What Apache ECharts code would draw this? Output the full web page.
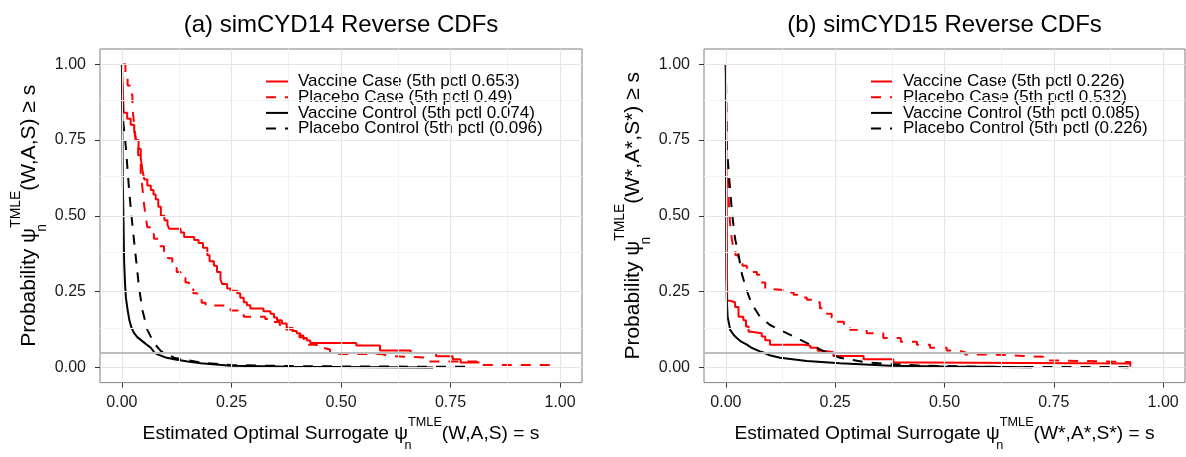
<!DOCTYPE html>
<html><head><meta charset="utf-8">
<script src="https://cdn.jsdelivr.net/npm/echarts@6/dist/echarts.min.js"></script>
<style>html,body{margin:0;padding:0;background:#fff}#c{width:1186px;height:457px}</style>
</head><body><div id="c"></div>
<script>
const FONT = '"Liberation Sans", Arial, Helvetica, sans-serif';
const tickValues = [0, 0.25, 0.5, 0.75, 1];
const tickLabels = ['0.00', '0.25', '0.50', '0.75', '1.00'];
const minorValues = [0.125, 0.375, 0.625, 0.875];
const axisMin = -0.05, axisMax = 1.05;
const refLevel = 0.05;
const panelTitles = ['(a) simCYD14 Reverse CDFs', '(b) simCYD15 Reverse CDFs'];
const namesA = ['Vaccine Case (5th pctl 0.653)', 'Placebo Case (5th pctl 0.49)', 'Vaccine Control (5th pctl 0.074)', 'Placebo Control (5th pctl (0.096)'];
const namesB = ['Vaccine Case (5th pctl 0.226)', 'Placebo Case (5th pctl 0.532)', 'Vaccine Control (5th pctl 0.085)', 'Placebo Control (5th pctl (0.226)'];

// Panel (a) simCYD14 : [s, P(psi >= s)]
const a_vacCase = [[0,1],[0.004,0.84],[0.012,0.82],[0.02,0.80],[0.028,0.78],[0.032,0.75],[0.038,0.72],[0.043,0.69],[0.047,0.65],[0.051,0.62],[0.058,0.60],[0.066,0.585],[0.072,0.57],[0.077,0.555],[0.083,0.53],[0.089,0.50],[0.097,0.485],[0.104,0.47],[0.108,0.457],[0.134,0.445],[0.142,0.43],[0.165,0.42],[0.175,0.41],[0.185,0.395],[0.195,0.37],[0.2,0.35],[0.21,0.335],[0.217,0.315],[0.225,0.29],[0.229,0.275],[0.24,0.26],[0.248,0.253],[0.263,0.245],[0.27,0.23],[0.278,0.215],[0.285,0.205],[0.293,0.194],[0.323,0.185],[0.339,0.177],[0.347,0.165],[0.354,0.156],[0.365,0.145],[0.376,0.13],[0.39,0.12],[0.399,0.113],[0.407,0.105],[0.414,0.097],[0.422,0.089],[0.43,0.081],[0.535,0.072],[0.589,0.056],[0.659,0.048],[0.717,0.037],[0.755,0.027],[0.773,0.016],[0.816,0.016]];
const a_plaCase = [[0.003,1],[0.008,0.96],[0.013,0.93],[0.018,0.9],[0.024,0.855],[0.028,0.8],[0.032,0.747],[0.037,0.7],[0.043,0.64],[0.047,0.59],[0.051,0.532],[0.055,0.49],[0.058,0.462],[0.065,0.44],[0.073,0.424],[0.085,0.4],[0.096,0.382],[0.105,0.36],[0.115,0.339],[0.125,0.315],[0.134,0.296],[0.145,0.28],[0.153,0.263],[0.163,0.245],[0.172,0.226],[0.182,0.213],[0.191,0.204],[0.241,0.196],[0.248,0.188],[0.265,0.177],[0.278,0.167],[0.327,0.16],[0.345,0.15],[0.36,0.14],[0.375,0.125],[0.39,0.115],[0.405,0.1],[0.415,0.087],[0.422,0.075],[0.445,0.065],[0.46,0.059],[0.475,0.044],[0.592,0.038],[0.61,0.032],[0.70,0.02],[0.81,0.008],[0.98,0.008]];
const a_vacCtrl = [[0,1],[0.001,0.8],[0.002,0.62],[0.004,0.45],[0.005,0.35],[0.007,0.28],[0.009,0.231],[0.013,0.19],[0.017,0.156],[0.022,0.13],[0.028,0.113],[0.035,0.1],[0.043,0.091],[0.055,0.077],[0.066,0.065],[0.074,0.05],[0.081,0.043],[0.1,0.033],[0.119,0.027],[0.15,0.02],[0.18,0.014],[0.248,0.006],[0.39,0.002],[0.71,0.0]];
const a_plaCtrl = [[0,1],[0.001,0.9],[0.003,0.81],[0.009,0.726],[0.013,0.65],[0.017,0.575],[0.024,0.468],[0.032,0.36],[0.039,0.264],[0.047,0.188],[0.058,0.124],[0.073,0.081],[0.089,0.054],[0.096,0.05],[0.119,0.032],[0.18,0.016],[0.248,0.008],[0.4,0.004],[0.6,0.003],[0.8,0.002]];

// Panel (b) simCYD15
const b_vacCase = [[0,1],[0.002,0.5],[0.003,0.22],[0.01,0.215],[0.021,0.199],[0.029,0.167],[0.04,0.156],[0.046,0.135],[0.052,0.118],[0.058,0.113],[0.082,0.102],[0.09,0.09],[0.101,0.075],[0.178,0.072],[0.193,0.065],[0.21,0.055],[0.223,0.05],[0.246,0.038],[0.315,0.027],[0.383,0.016],[0.45,0.013],[0.925,0.013]];
const b_plaCase = [[0,1],[0.001,0.85],[0.002,0.726],[0.004,0.65],[0.006,0.565],[0.008,0.51],[0.01,0.468],[0.013,0.43],[0.016,0.403],[0.022,0.37],[0.029,0.35],[0.038,0.335],[0.048,0.328],[0.06,0.315],[0.071,0.306],[0.08,0.28],[0.09,0.258],[0.105,0.255],[0.139,0.247],[0.155,0.24],[0.17,0.231],[0.185,0.223],[0.2,0.215],[0.215,0.195],[0.231,0.177],[0.242,0.165],[0.254,0.151],[0.27,0.137],[0.284,0.124],[0.322,0.113],[0.36,0.097],[0.4,0.085],[0.437,0.075],[0.467,0.065],[0.505,0.056],[0.532,0.05],[0.547,0.043],[0.592,0.041],[0.637,0.038],[0.68,0.035],[0.726,0.023],[0.76,0.018],[0.925,0.005],[0.94,0.005]];
const b_vacCtrl = [[0,1],[0.0005,0.6],[0.001,0.3],[0.002,0.231],[0.004,0.167],[0.01,0.124],[0.018,0.107],[0.025,0.097],[0.035,0.085],[0.048,0.075],[0.06,0.064],[0.078,0.053],[0.085,0.05],[0.1,0.04],[0.124,0.032],[0.185,0.021],[0.261,0.014],[0.376,0.006],[0.5,0.003],[0.7,0.001]];
const b_plaCtrl = [[0,1],[0.001,0.85],[0.002,0.726],[0.008,0.618],[0.014,0.511],[0.021,0.425],[0.029,0.371],[0.037,0.306],[0.048,0.253],[0.059,0.21],[0.078,0.167],[0.101,0.14],[0.132,0.118],[0.162,0.097],[0.193,0.075],[0.223,0.054],[0.226,0.05],[0.261,0.032],[0.315,0.018],[0.376,0.011],[0.45,0.006],[0.6,0.002],[0.94,0.001]];

const grids = [
  {left: 100, right: 604, top: 49, bottom: 66},
  {left: 704, right: 1, top: 49, bottom: 66}
];
function makeRich(fs) {
  const sfs = fs * 0.66;
  return {
    b: {fontSize: fs, fontFamily: FONT, color: '#000', lineHeight: fs * 1.9, verticalAlign: 'middle'},
    sub: {fontSize: sfs, fontFamily: FONT, color: '#000', lineHeight: fs * 1.2, verticalAlign: 'bottom', width: 0.1},
    sup: {fontSize: sfs, fontFamily: FONT, color: '#000', lineHeight: fs * 0.9, verticalAlign: 'top'}
  };
}
const xNames = ['{b|Estimated Optimal Surrogate ψ}{sub|n}{sup|TMLE}{b|(W,A,S) = s}',
                '{b|Estimated Optimal Surrogate ψ}{sub|n}{sup|TMLE}{b|(W*,A*,S*) = s}'];
const yNames = ['{b|Probability ψ}{sub|n}{sup|TMLE}{b|(W,A,S) ≥ s}',
                '{b|Probability ψ}{sub|n}{sup|TMLE}{b|(W*,A*,S*) ≥ s}'];

function axisCommon(gi, margin, nameFs) {
  return {
    gridIndex: gi, type: 'value', min: axisMin, max: axisMax,
    axisLine: {show: false, onZero: false},
    axisTick: {show: true, length: 5, customValues: tickValues, lineStyle: {color: '#333', width: 1}},
    axisLabel: {customValues: tickValues, margin,
      formatter: v => { const i = tickValues.findIndex(t => Math.abs(t - v) < 1e-9); return i >= 0 ? tickLabels[i] : ''; },
      fontSize: 16, fontFamily: FONT, color: '#1a1a1a'},
    splitLine: {show: false},
    nameLocation: 'middle',
    nameTextStyle: {fontFamily: FONT, fontSize: nameFs, color: '#000', rich: makeRich(nameFs)}
  };
}
const xAxes = [0, 1].map(gi => Object.assign(axisCommon(gi, 12, 19.2), {name: xNames[gi], nameGap: 16}));
const yAxes = [0, 1].map(gi => Object.assign(axisCommon(gi, 14, 21), {name: yNames[gi], nameGap: 51, nameRotate: 90}));

function gridLineSeries(gi) {
  const d = [];
  minorValues.forEach(v => { d.push({xAxis: v, lineStyle: {color: '#f3f3f3', width: 1, type: 'solid'}}); d.push({yAxis: v, lineStyle: {color: '#f3f3f3', width: 1, type: 'solid'}}); });
  tickValues.forEach(v => { d.push({xAxis: v, lineStyle: {color: '#e5e5e5', width: 1.2, type: 'solid'}}); d.push({yAxis: v, lineStyle: {color: '#e5e5e5', width: 1.2, type: 'solid'}}); });
  return {type: 'line', xAxisIndex: gi, yAxisIndex: gi, data: [], z: 1, silent: true,
    markLine: {silent: true, symbol: ['none', 'none'], label: {show: false}, emphasis: {disabled: true}, lineStyle: {type: 'solid'}, data: d}};
}
function refLineSeries(gi) {
  return {type: 'line', xAxisIndex: gi, yAxisIndex: gi, data: [], z: 6, silent: true,
    markLine: {silent: true, symbol: ['none', 'none'], label: {show: false}, emphasis: {disabled: true}, lineStyle: {type: 'solid'},
      data: [{yAxis: refLevel, lineStyle: {color: '#bdbdbd', width: 2, type: 'solid'}}]}};
}
function curve(name, data, gi, color, dashed, step) {
  return {type: 'line', name, data, xAxisIndex: gi, yAxisIndex: gi, step: step ? 'end' : false,
    showSymbol: false, symbol: 'none', z: 3, silent: true, smooth: false,
    lineStyle: {color, width: 2, type: dashed ? [10, 9] : 'solid'}, itemStyle: {color}};
}
const series = [
  gridLineSeries(0), gridLineSeries(1),
  curve(namesA[0], a_vacCase, 0, '#ff0000', false, true),
  curve(namesA[1], a_plaCase, 0, '#ff0000', true, true),
  curve(namesA[2], a_vacCtrl, 0, '#000000', false, false),
  curve(namesA[3], a_plaCtrl, 0, '#000000', true, false),
  curve(namesB[0], b_vacCase, 1, '#ff0000', false, true),
  curve(namesB[1], b_plaCase, 1, '#ff0000', true, true),
  curve(namesB[2], b_vacCtrl, 1, '#000000', false, false),
  curve(namesB[3], b_plaCtrl, 1, '#000000', true, false),
  refLineSeries(0), refLineSeries(1)
];
function legendFor(names, left) {
  return {data: names, orient: 'vertical', left, top: 73, padding: 0, itemWidth: 22, itemHeight: 14, itemGap: -1.3,
    selectedMode: false,
    itemStyle: {opacity: 0, borderWidth: 0, color: 'rgba(0,0,0,0)', borderColor: 'rgba(0,0,0,0)'},
    textStyle: {fontSize: 17, fontFamily: FONT, color: '#000', padding: [0, 0, 0, 5]}};
}
const titleCenters = grids.map(g => g.left + (1186 - g.left - g.right) / 2);
const option = {
  animation: false,
  backgroundColor: '#fff',
  grid: grids.map(g => Object.assign({show: true, backgroundColor: 'transparent', borderColor: '#7f7f7f', borderWidth: 1}, g)),
  xAxis: xAxes, yAxis: yAxes,
  legend: [legendFor(namesA, 265), legendFor(namesB, 870)],
  graphic: panelTitles.map((t, i) => ({type: 'text', x: titleCenters[i], y: 25,
    style: {text: t, align: 'center', verticalAlign: 'middle', fontSize: 24, fontFamily: FONT, fill: '#000'}})),
  series
};
const chart = echarts.init(document.getElementById('c'), null, {renderer: 'canvas'});
chart.setOption(option);
</script></body></html>
